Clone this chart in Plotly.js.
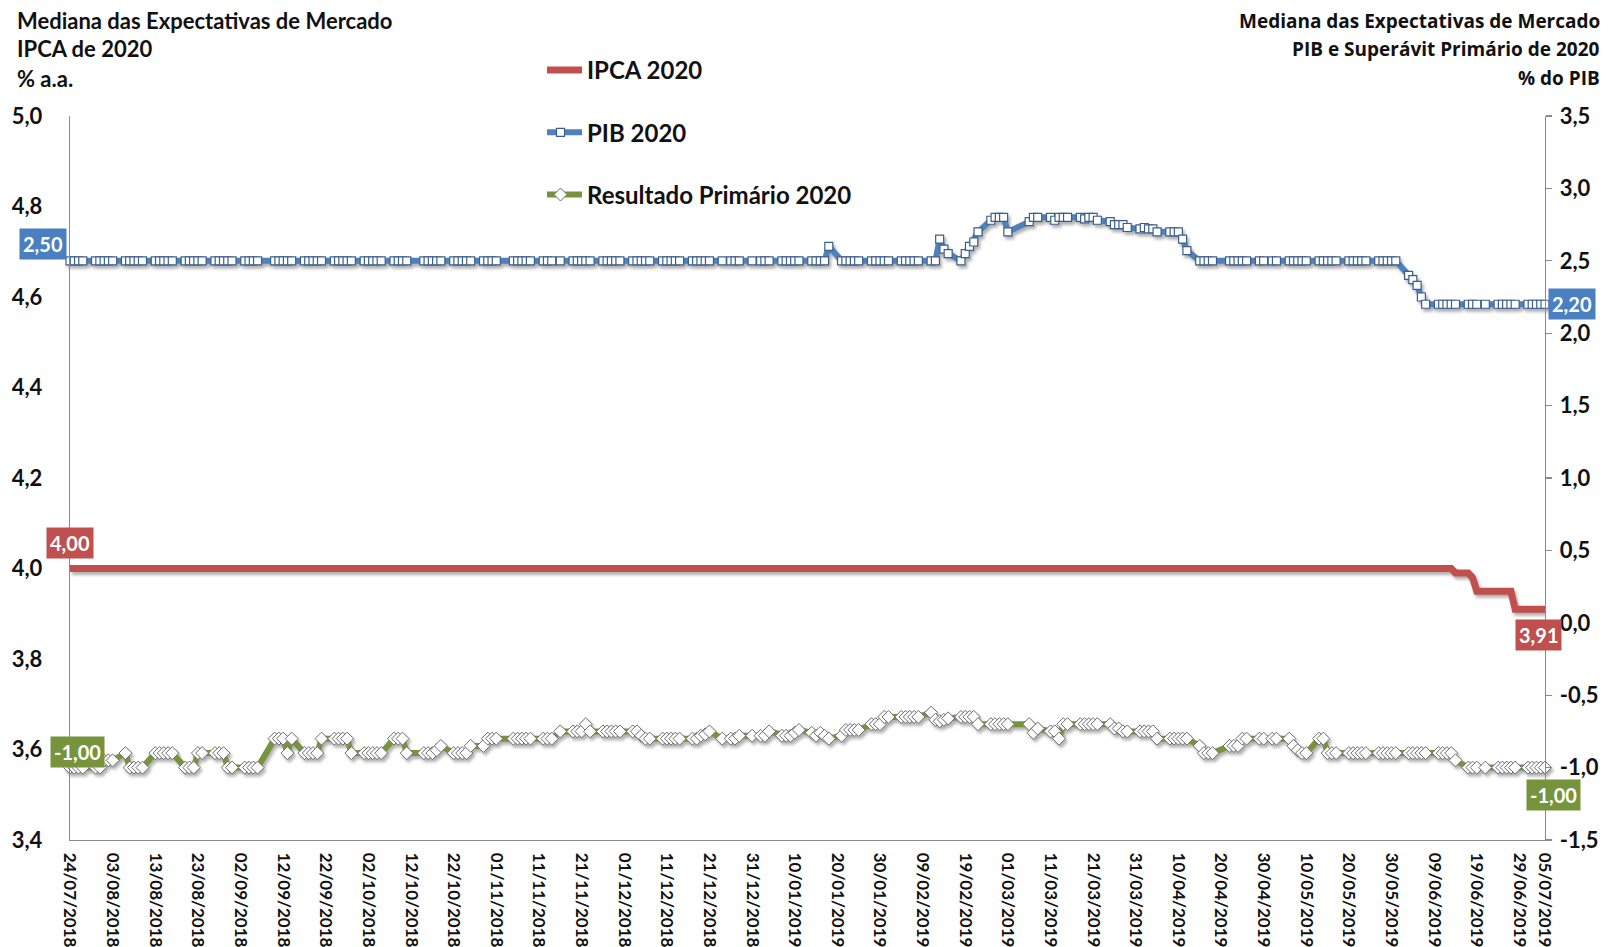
<!DOCTYPE html>
<html>
<head>
<meta charset="utf-8">
<script src="https://cdn.plot.ly/plotly-3.0.1.min.js"></script>
<style>
  html, body { margin: 0; padding: 0; background: #fff; }
  #chart { width: 1610px; height: 947px; }
  .js-plotly-plot .scatterlayer .trace { filter: drop-shadow(2px 3px 1.5px rgba(0,0,0,0.30)); }
  .js-plotly-plot .legend .traces .legendlines path { d: path("M-8,0h43"); }
  .js-plotly-plot .legend .traces .legendpoints path { transform: translate(13.5px, 0px); }
</style>
</head>
<body>
<div id="chart"></div>
<script>
// ---------- DATA (Focus survey medians, business days) ----------
const dates = [
  '2018-07-24','2018-07-25','2018-07-26','2018-07-27','2018-07-30','2018-07-31',
  '2018-08-01','2018-08-02','2018-08-03','2018-08-06','2018-08-07','2018-08-08','2018-08-09','2018-08-10','2018-08-13','2018-08-14','2018-08-15','2018-08-16','2018-08-17','2018-08-20','2018-08-21','2018-08-22','2018-08-23','2018-08-24','2018-08-27','2018-08-28','2018-08-29','2018-08-30','2018-08-31',
  '2018-09-03','2018-09-04','2018-09-05','2018-09-06','2018-09-10','2018-09-11','2018-09-12','2018-09-13','2018-09-14','2018-09-17','2018-09-18','2018-09-19','2018-09-20','2018-09-21','2018-09-24','2018-09-25','2018-09-26','2018-09-27','2018-09-28',
  '2018-10-01','2018-10-02','2018-10-03','2018-10-04','2018-10-05','2018-10-08','2018-10-09','2018-10-10','2018-10-11','2018-10-15','2018-10-16','2018-10-17','2018-10-18','2018-10-19','2018-10-22','2018-10-23','2018-10-24','2018-10-25','2018-10-26','2018-10-29','2018-10-30','2018-10-31',
  '2018-11-01','2018-11-05','2018-11-06','2018-11-07','2018-11-08','2018-11-09','2018-11-12','2018-11-13','2018-11-14','2018-11-16','2018-11-19','2018-11-20','2018-11-21','2018-11-22','2018-11-23','2018-11-26','2018-11-27','2018-11-28','2018-11-29','2018-11-30',
  '2018-12-03','2018-12-04','2018-12-05','2018-12-06','2018-12-07','2018-12-10','2018-12-11','2018-12-12','2018-12-13','2018-12-14','2018-12-17','2018-12-18','2018-12-19','2018-12-20','2018-12-21','2018-12-24','2018-12-26','2018-12-27','2018-12-28','2018-12-31',
  '2019-01-02','2019-01-03','2019-01-04','2019-01-07','2019-01-08','2019-01-09','2019-01-10','2019-01-11','2019-01-14','2019-01-15','2019-01-16','2019-01-17','2019-01-18','2019-01-21','2019-01-22','2019-01-23','2019-01-24','2019-01-25','2019-01-28','2019-01-29','2019-01-30','2019-01-31',
  '2019-02-01','2019-02-04','2019-02-05','2019-02-06','2019-02-07','2019-02-08','2019-02-11','2019-02-12','2019-02-13','2019-02-14','2019-02-15','2019-02-18','2019-02-19','2019-02-20','2019-02-21','2019-02-22','2019-02-25','2019-02-26','2019-02-27','2019-02-28',
  '2019-03-01','2019-03-06','2019-03-07','2019-03-08','2019-03-11','2019-03-12','2019-03-13','2019-03-14','2019-03-15','2019-03-18','2019-03-19','2019-03-20','2019-03-21','2019-03-22','2019-03-25','2019-03-26','2019-03-27','2019-03-28','2019-03-29',
  '2019-04-01','2019-04-02','2019-04-03','2019-04-04','2019-04-05','2019-04-08','2019-04-09','2019-04-10','2019-04-11','2019-04-12','2019-04-15','2019-04-16','2019-04-17','2019-04-18','2019-04-22','2019-04-23','2019-04-24','2019-04-25','2019-04-26','2019-04-29','2019-04-30',
  '2019-05-02','2019-05-03','2019-05-06','2019-05-07','2019-05-08','2019-05-09','2019-05-10','2019-05-13','2019-05-14','2019-05-15','2019-05-16','2019-05-17','2019-05-20','2019-05-21','2019-05-22','2019-05-23','2019-05-24','2019-05-27','2019-05-28','2019-05-29','2019-05-30','2019-05-31',
  '2019-06-03','2019-06-04','2019-06-05','2019-06-06','2019-06-07','2019-06-10','2019-06-11','2019-06-12','2019-06-13','2019-06-14','2019-06-17','2019-06-18','2019-06-19','2019-06-21','2019-06-24','2019-06-25','2019-06-26','2019-06-27','2019-06-28',
  '2019-07-01','2019-07-02','2019-07-03','2019-07-04','2019-07-05'
];

// IPCA 2020 (% a.a.) - left axis
const ipca = [
  4.00,4.00,4.00,4.00, 4.00,4.00,
  4.00,4.00,4.00, 4.00,4.00,4.00,4.00,4.00, 4.00,4.00,4.00,4.00,4.00, 4.00,4.00,4.00,4.00,4.00, 4.00,4.00,4.00,4.00,4.00,
  4.00,4.00,4.00,4.00, 4.00,4.00,4.00,4.00,4.00, 4.00,4.00,4.00,4.00,4.00, 4.00,4.00,4.00,4.00,4.00,
  4.00,4.00,4.00,4.00,4.00, 4.00,4.00,4.00,4.00, 4.00,4.00,4.00,4.00,4.00, 4.00,4.00,4.00,4.00,4.00, 4.00,4.00,4.00,
  4.00, 4.00,4.00,4.00,4.00,4.00, 4.00,4.00,4.00, 4.00, 4.00,4.00,4.00,4.00,4.00, 4.00,4.00,4.00,4.00,4.00,
  4.00,4.00,4.00,4.00,4.00, 4.00,4.00,4.00,4.00,4.00, 4.00,4.00,4.00,4.00,4.00, 4.00, 4.00,4.00,4.00, 4.00,
  4.00,4.00,4.00, 4.00,4.00,4.00,4.00,4.00, 4.00,4.00,4.00,4.00,4.00, 4.00,4.00,4.00,4.00,4.00, 4.00,4.00,4.00,4.00,
  4.00, 4.00,4.00,4.00,4.00,4.00, 4.00,4.00,4.00,4.00,4.00, 4.00,4.00,4.00,4.00,4.00, 4.00,4.00,4.00,4.00,
  4.00, 4.00,4.00,4.00, 4.00,4.00,4.00,4.00,4.00, 4.00,4.00,4.00,4.00,4.00, 4.00,4.00,4.00,4.00,4.00,
  4.00,4.00,4.00,4.00,4.00, 4.00,4.00,4.00,4.00,4.00, 4.00,4.00,4.00,4.00, 4.00,4.00,4.00,4.00,4.00, 4.00,4.00,
  4.00,4.00, 4.00,4.00,4.00,4.00,4.00, 4.00,4.00,4.00,4.00,4.00, 4.00,4.00,4.00,4.00,4.00, 4.00,4.00,4.00,4.00,4.00,
  4.00,4.00,4.00,4.00,4.00, 4.00,4.00,4.00,4.00,3.99, 3.99,3.98,3.95, 3.95, 3.95,3.95,3.95,3.95,3.91,
  3.91,3.91,3.91,3.91,3.91
];

// PIB 2020 (%) - right axis
const pib = [
  2.50,2.50,2.50,2.50, 2.50,2.50,
  2.50,2.50,2.50, 2.50,2.50,2.50,2.50,2.50, 2.50,2.50,2.50,2.50,2.50, 2.50,2.50,2.50,2.50,2.50, 2.50,2.50,2.50,2.50,2.50,
  2.50,2.50,2.50,2.50, 2.50,2.50,2.50,2.50,2.50, 2.50,2.50,2.50,2.50,2.50, 2.50,2.50,2.50,2.50,2.50,
  2.50,2.50,2.50,2.50,2.50, 2.50,2.50,2.50,2.50, 2.50,2.50,2.50,2.50,2.50, 2.50,2.50,2.50,2.50,2.50, 2.50,2.50,2.50,
  2.50, 2.50,2.50,2.50,2.50,2.50, 2.50,2.50,2.50, 2.50, 2.50,2.50,2.50,2.50,2.50, 2.50,2.50,2.50,2.50,2.50,
  2.50,2.50,2.50,2.50,2.50, 2.50,2.50,2.50,2.50,2.50, 2.50,2.50,2.50,2.50,2.50, 2.50, 2.50,2.50,2.50, 2.50,
  2.50,2.50,2.50, 2.50,2.50,2.50,2.50,2.50, 2.50,2.50,2.50,2.50,2.60, 2.50,2.50,2.50,2.50,2.50, 2.50,2.50,2.50,2.50,
  2.50, 2.50,2.50,2.50,2.50,2.50, 2.50,2.50,2.65,2.58,2.55, 2.50,2.55,2.60,2.63,2.70, 2.78,2.80,2.80,2.80,
  2.70, 2.77,2.80,2.80, 2.80,2.78,2.80,2.80,2.80, 2.80,2.79,2.80,2.80,2.78, 2.77,2.75,2.75,2.75,2.73,
  2.72,2.73,2.72,2.72,2.70, 2.70,2.70,2.70,2.65,2.57, 2.50,2.50,2.50,2.50, 2.50,2.50,2.50,2.50,2.50, 2.50,2.50,
  2.50,2.50, 2.50,2.50,2.50,2.50,2.50, 2.50,2.50,2.50,2.50,2.50, 2.50,2.50,2.50,2.50,2.50, 2.50,2.50,2.50,2.50,2.50,
  2.40,2.37,2.33,2.25,2.20, 2.20,2.20,2.20,2.20,2.20, 2.20,2.20,2.20, 2.20, 2.20,2.20,2.20,2.20,2.20,
  2.20,2.20,2.20,2.20,2.20
];

// Resultado Primário 2020 (% do PIB) - right axis
const primario = [
  -1.00,-1.00,-1.00,-1.00, -1.00,-1.00,
  -0.95,-0.95,-0.95, -0.90,-1.00,-1.00,-1.00,-1.00, -0.90,-0.90,-0.90,-0.90,-0.90, -1.00,-1.00,-1.00,-0.90,-0.90, -0.90,-0.90,-0.90,-1.00,-1.00,
  -1.00,-1.00,-1.00,-1.00, -0.80,-0.80,-0.80,-0.90,-0.80, -0.90,-0.90,-0.90,-0.90,-0.80, -0.80,-0.80,-0.80,-0.80,-0.90,
  -0.90,-0.90,-0.90,-0.90,-0.90, -0.80,-0.80,-0.80,-0.90, -0.90,-0.90,-0.90,-0.88,-0.85, -0.90,-0.90,-0.90,-0.90,-0.85, -0.85,-0.80,-0.80,
  -0.80, -0.80,-0.80,-0.80,-0.80,-0.80, -0.80,-0.80,-0.80, -0.75, -0.75,-0.75,-0.75,-0.70,-0.75, -0.75,-0.75,-0.75,-0.75,-0.75,
  -0.75,-0.75,-0.78,-0.80,-0.80, -0.80,-0.80,-0.80,-0.80,-0.80, -0.80,-0.80,-0.78,-0.77,-0.75, -0.80, -0.80,-0.80,-0.78, -0.78,
  -0.78,-0.78,-0.75, -0.78,-0.78,-0.78,-0.76,-0.74, -0.76,-0.78,-0.76,-0.78,-0.80, -0.78,-0.74,-0.74,-0.74,-0.74, -0.70,-0.70,-0.70,-0.65,
  -0.65, -0.65,-0.65,-0.65,-0.65,-0.65, -0.62,-0.67,-0.68,-0.67,-0.66, -0.65,-0.65,-0.65,-0.65,-0.70, -0.70,-0.70,-0.70,-0.70,
  -0.70, -0.70,-0.76,-0.73, -0.75,-0.75,-0.80,-0.70,-0.70, -0.70,-0.70,-0.70,-0.70,-0.70, -0.70,-0.73,-0.73,-0.75,-0.75,
  -0.75,-0.75,-0.75,-0.75,-0.80, -0.80,-0.80,-0.80,-0.80,-0.80, -0.85,-0.90,-0.90,-0.90, -0.85,-0.85,-0.85,-0.80,-0.80, -0.80,-0.80,
  -0.80,-0.80, -0.80,-0.85,-0.88,-0.90,-0.90, -0.80,-0.80,-0.90,-0.90,-0.90, -0.90,-0.90,-0.90,-0.90,-0.90, -0.90,-0.90,-0.90,-0.90,-0.90,
  -0.90,-0.90,-0.90,-0.90,-0.90, -0.90,-0.90,-0.90,-0.90,-0.95, -1.00,-1.00,-1.00, -1.00, -1.00,-1.00,-1.00,-1.00,-1.00,
  -1.00,-1.00,-1.00,-1.00,-1.00
];

const seriesNames = ['IPCA 2020', 'PIB 2020', 'Resultado Primário 2020'];

const xTickLabels = ['24/07/2018','03/08/2018','13/08/2018','23/08/2018','02/09/2018','12/09/2018','22/09/2018',
  '02/10/2018','12/10/2018','22/10/2018','01/11/2018','11/11/2018','21/11/2018','01/12/2018','11/12/2018',
  '21/12/2018','31/12/2018','10/01/2019','20/01/2019','30/01/2019','09/02/2019','19/02/2019','01/03/2019',
  '11/03/2019','21/03/2019','31/03/2019','10/04/2019','20/04/2019','30/04/2019','10/05/2019','20/05/2019',
  '30/05/2019','09/06/2019','19/06/2019','29/06/2019','05/07/2019'];
const yLeftTickLabels = ['3,4','3,6','3,8','4,0','4,2','4,4','4,6','4,8','5,0'];
const yRightTickLabels = ['-1,5','-1,0','-0,5','0,0','0,5','1,0','1,5','2,0','2,5','3,0','3,5'];

// ---------- STYLE ----------
const FONT = 'Lato, "Open Sans", "DejaVu Sans", sans-serif';
const FONT2 = '"Open Sans", Lato, "DejaVu Sans", sans-serif';
const RED = '#C0504D', BLUE = '#4F81BD', GREEN = '#77933C';
const AXIS = '#8a8a8a';

const toIso = s => { const p = s.split('/'); return p[2] + '-' + p[1] + '-' + p[0]; };
const num = s => parseFloat(s.replace(',', '.'));
const fmt = v => v.toFixed(2).replace('.', ',');
const last = a => a[a.length - 1];

const traces = [
  { x: dates, y: ipca, name: seriesNames[0], type: 'scatter', mode: 'lines', yaxis: 'y',
    legendgroup: 'a', line: { color: RED, width: 7 }, cliponaxis: false, hoverinfo: 'skip' },
  { x: dates, y: pib, name: seriesNames[1], type: 'scatter', mode: 'lines+markers', yaxis: 'y2',
    legendgroup: 'b', line: { color: BLUE, width: 6 },
    marker: { symbol: 'square', size: 8, color: '#ffffff', line: { color: '#3b5f8c', width: 1.2 } },
    cliponaxis: false, hoverinfo: 'skip' },
  { x: dates, y: primario, name: seriesNames[2], type: 'scatter', mode: 'lines+markers', yaxis: 'y2',
    legendgroup: 'c', line: { color: GREEN, width: 6 },
    marker: { symbol: 'diamond', size: 10, color: '#ffffff', line: { color: '#6b6b6b', width: 1 } },
    cliponaxis: false, hoverinfo: 'skip' }
];

const PL = 70, PW = 1475, PT = 116, PH = 724;
const px = v => (v - PL) / PW;
const py = v => 1 + (PT - v) / PH;

function title(text, x, y, anchor, fam, size) {
  return { xref: 'paper', yref: 'paper', x: px(x), y: py(y), xanchor: anchor, yanchor: 'middle',
    text: text, showarrow: false, font: { family: fam, size: size, weight: 700, color: '#111' } };
}
function box(text, yref, xv, yv, xanchor, xshift, yshift, color) {
  return { xref: 'x', yref: yref, x: xv, y: yv, xanchor: xanchor, yanchor: 'middle',
    xshift: xshift, yshift: yshift, text: text, showarrow: false, bgcolor: color, borderpad: 3,
    font: { family: FONT, size: 20, weight: 700, color: '#ffffff' } };
}

const annotations = [
  title('Mediana das Expectativas de Mercado', 15, 21, 'left', FONT, 22),
  title('IPCA de 2020', 15, 49, 'left', FONT, 22),
  title('% a.a.', 15, 78, 'left', FONT, 22),
  title('Mediana das Expectativas de Mercado', 1602, 21, 'right', FONT2, 19),
  title('PIB e Superávit Primário de 2020', 1602, 49, 'right', FONT2, 19),
  title('% do PIB', 1602, 78, 'right', FONT2, 19),
  box(fmt(pib[0]), 'y2', dates[0], pib[0], 'right', -3, 17, '#4a7fc1'),
  box(fmt(last(pib)), 'y2', last(dates), last(pib), 'left', 3, 0, '#4a7fc1'),
  box(fmt(ipca[0]), 'y', dates[0], ipca[0], 'center', 0, 26, RED),
  box(fmt(last(ipca)), 'y', last(dates), last(ipca), 'center', -7, -26, RED),
  box(fmt(primario[0]), 'y2', dates[0], primario[0], 'center', 7, 16, GREEN),
  box(fmt(last(primario)), 'y2', last(dates), last(primario), 'center', 8, -27, GREEN)
];

const layout = {
  width: 1610, height: 947,
  margin: { l: PL, r: 1610 - PL - PW, t: PT, b: 947 - PT - PH, pad: 0 },
  paper_bgcolor: '#ffffff', plot_bgcolor: '#ffffff',
  separators: ',.',
  font: { family: FONT, weight: 700, color: '#111' },
  showlegend: true,
  legend: { x: px(547), y: py(48), xanchor: 'left', yanchor: 'top', bgcolor: 'rgba(0,0,0,0)',
    font: { family: FONT, size: 24, weight: 700, color: '#111' }, tracegroupgap: 28, itemwidth: 30 },
  xaxis: {
    type: 'date', range: [dates[0], last(dates)],
    tickmode: 'array', tickvals: xTickLabels.map(toIso), ticktext: xTickLabels,
    tickangle: 90, tickfont: { family: FONT, size: 17, weight: 700, color: '#111' },
    ticks: '', showline: true, linecolor: AXIS, linewidth: 1.3, showgrid: false, zeroline: false,
    ticklabelstandoff: 8, fixedrange: true
  },
  yaxis: {
    range: [num(yLeftTickLabels[0]), num(last(yLeftTickLabels))],
    tickmode: 'array', tickvals: yLeftTickLabels.map(num), ticktext: yLeftTickLabels,
    tickfont: { family: FONT, size: 22, weight: 700, color: '#111' },
    ticks: '', showline: true, linecolor: AXIS, linewidth: 1.3, showgrid: false, zeroline: false,
    ticklabelstandoff: 22, fixedrange: true
  },
  yaxis2: {
    overlaying: 'y', side: 'right',
    range: [num(yRightTickLabels[0]), num(last(yRightTickLabels))],
    tickmode: 'array', tickvals: yRightTickLabels.map(num), ticktext: yRightTickLabels,
    tickfont: { family: FONT, size: 22, weight: 700, color: '#111' },
    ticks: 'outside', ticklen: 6, tickcolor: AXIS, tickwidth: 1.3,
    showline: true, linecolor: AXIS, linewidth: 1.3, showgrid: false, zeroline: false,
    ticklabelstandoff: 3, fixedrange: true
  },
  annotations: annotations
};

Plotly.newPlot('chart', traces, layout, { displayModeBar: false, staticPlot: true });
</script>
</body>
</html>
